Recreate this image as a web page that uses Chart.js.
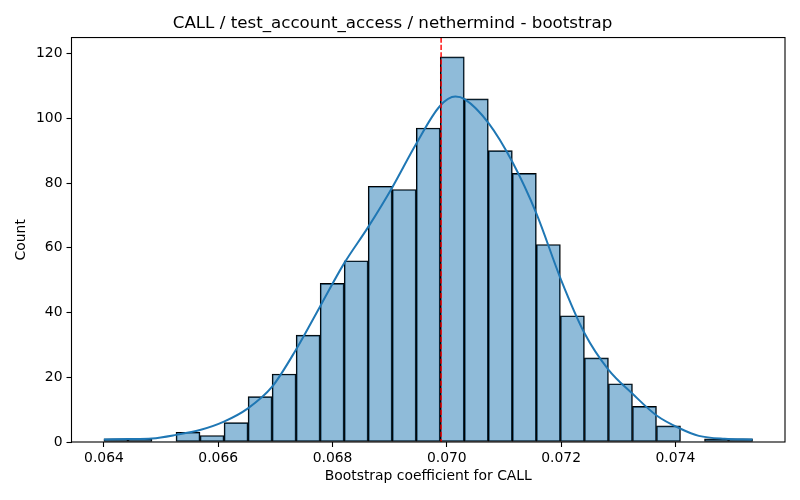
<!DOCTYPE html>
<html>
<head>
<meta charset="utf-8">
<script src="https://cdn.jsdelivr.net/npm/chart.js@4.4.0/dist/chart.umd.min.js"></script>
<style>
    html, body { margin: 0; padding: 0; background: #fff; }
    #wrap { width: 800px; height: 500px; }
</style>
</head>
<body>
<div id="wrap"><canvas id="hist"></canvas></div>
<script>
// histogram: 27 equal bins from the smallest to the largest bootstrap value
const binLow = 0.064
const binHigh = 0.07535
const counts = [1, 1, 0, 3, 2, 6, 14, 21, 33, 49, 56, 79, 78, 97, 119, 106, 90, 83, 61, 39, 26, 18, 11, 5, 0, 1, 1]

// kde curve
const kdeX = [0.06400, 0.06442, 0.06484, 0.06526, 0.06568, 0.06610, 0.06652, 0.06694, 0.06736, 0.06778,
    0.06820, 0.06862, 0.06904, 0.06946, 0.06988, 0.07015, 0.07031, 0.07073, 0.07115, 0.07157,
    0.07199, 0.07241, 0.07283, 0.07325, 0.07367, 0.07409, 0.07441, 0.07486, 0.07535]
const kdeY = [0.8, 0.9, 1.1, 2.2, 3.7, 6.3, 10.4, 17.0, 28.5, 41.8,
    55.1, 66.3, 78.5, 92.0, 103.8, 106.7, 105.9, 98.5, 86.4, 70.5,
    50.5, 33.6, 22.3, 14.9, 8.2, 4.1, 1.9, 1.0, 0.8]

const refValue = 0.0699
const xTicks = [0.064, 0.066, 0.068, 0.070, 0.072, 0.074]
const yTicks = [0, 20, 40, 60, 80, 100, 120]

const binWidth = (binHigh - binLow) / counts.length
const bars = counts.map((c, i) => ({ x: binLow + (i + 0.5) * binWidth, y: c }))
const kde = kdeX.map((x, i) => ({ x: x, y: kdeY[i] }))

const xPad = (binHigh - binLow) * 0.05

Chart.defaults.font.family = 'DejaVu Sans'
Chart.defaults.font.size = 13.9
Chart.defaults.color = '#000'

// red reference line + the box round the axes
const extras = {
    id: 'extras',
    afterDatasetsDraw(chart) {
        const { ctx, chartArea: a } = chart
        const px = chart.scales.x.getPixelForValue(refValue)
        ctx.save()
        ctx.strokeStyle = 'red'
        ctx.lineWidth = 1.4
        ctx.setLineDash([5.1, 2.2])
        ctx.beginPath()
        ctx.moveTo(px, a.top)
        ctx.lineTo(px, a.bottom)
        ctx.stroke()
        ctx.restore()
    },
    afterDraw(chart) {
        const { ctx, chartArea: a } = chart
        ctx.save()
        ctx.strokeStyle = '#000'
        ctx.lineWidth = 1.1
        ctx.strokeRect(a.left, a.top, a.right - a.left, a.bottom - a.top)
        ctx.restore()
    },
}

const tickGrid = { display: true, offset: false, drawOnChartArea: false, drawTicks: true, tickLength: 5, tickWidth: 1.1, tickColor: '#000' }

new Chart(document.getElementById('hist'), {
    data: {
        datasets: [
            {
                type: 'line',
                data: kde,
                borderColor: '#1f77b4',
                borderWidth: 2,
                pointRadius: 0,
                cubicInterpolationMode: 'monotone',
                order: 0,
            },
            {
                type: 'bar',
                data: bars,
                backgroundColor: 'rgba(31, 119, 180, 0.5)',
                borderColor: '#000',
                borderWidth: (c) => (c.raw && c.raw.y > 0 ? 1 : 0),
                borderSkipped: false,
                barPercentage: 1,
                categoryPercentage: 1,
                order: 1,
            },
        ],
    },
    options: {
        responsive: true,
        maintainAspectRatio: false,
        animation: false,
        layout: { padding: { left: 0, right: 15, top: 0, bottom: 0 } },
        plugins: {
            legend: { display: false },
            tooltip: { enabled: false },
            title: {
                display: true,
                text: 'CALL / test_account_access / nethermind - bootstrap',
                font: { size: 16.7, weight: 'normal' },
                color: '#000',
                padding: { top: 14, bottom: 3.5 },
            },
        },
        scales: {
            x: {
                type: 'linear',
                offset: false,
                min: binLow - xPad,
                max: binHigh + xPad,
                grid: tickGrid,
                border: { display: false },
                afterBuildTicks: (s) => { s.ticks = xTicks.map((v) => ({ value: v })) },
                afterFit: (s) => { s.height = 58 },
                ticks: { padding: 3, maxRotation: 0, callback: (v) => v.toFixed(3) },
                title: { display: true, text: 'Bootstrap coefficient for CALL', padding: { top: 0, bottom: 15 } },
            },
            y: {
                min: 0,
                max: Math.max(...counts) * 1.05,
                grid: tickGrid,
                border: { display: false },
                afterBuildTicks: (s) => { s.ticks = yTicks.map((v) => ({ value: v })) },
                afterFit: (s) => { s.width = 71.5 },
                ticks: { padding: 4 },
                title: { display: true, text: 'Count', padding: { top: 12.7, bottom: 0 } },
            },
        },
    },
    plugins: [extras],
})
</script>
</body>
</html>
